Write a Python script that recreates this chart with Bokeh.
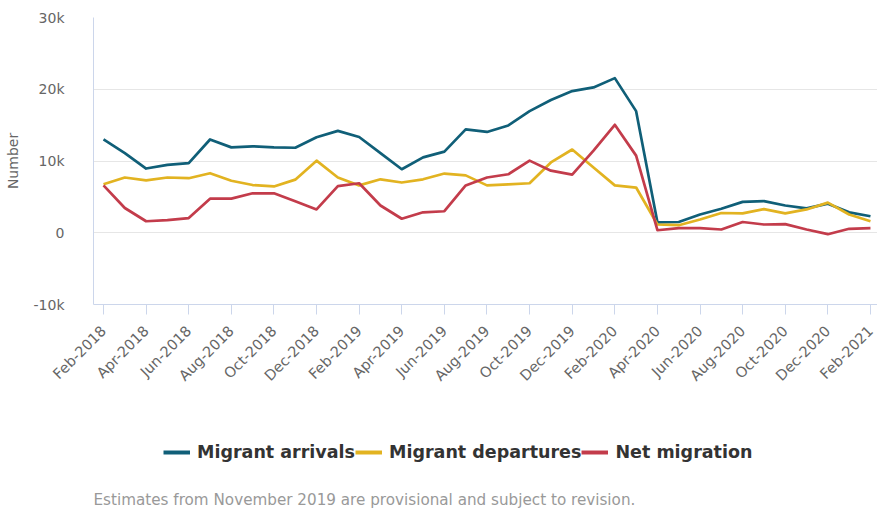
from bokeh.plotting import figure
from bokeh.layouts import column
from bokeh.models import Range1d, FixedTicker, Legend, LegendItem, Label
from bokeh.embed import file_html
from bokeh.resources import INLINE

months = ["Feb-2018", "Mar-2018", "Apr-2018", "May-2018", "Jun-2018", "Jul-2018", "Aug-2018",
          "Sep-2018", "Oct-2018", "Nov-2018", "Dec-2018", "Jan-2019", "Feb-2019", "Mar-2019",
          "Apr-2019", "May-2019", "Jun-2019", "Jul-2019", "Aug-2019", "Sep-2019", "Oct-2019",
          "Nov-2019", "Dec-2019", "Jan-2020", "Feb-2020", "Mar-2020", "Apr-2020", "May-2020",
          "Jun-2020", "Jul-2020", "Aug-2020", "Sep-2020", "Oct-2020", "Nov-2020", "Dec-2020",
          "Jan-2021", "Feb-2021"]

arrivals = [13000, 11100, 8950, 9450, 9700, 13000, 11900, 12050, 11900, 11850, 13300, 14200,
            13350, 11100, 8850, 10500, 11300, 14400, 14050, 14950, 16950, 18500, 19750, 20250,
            21550, 16950, 1450, 1500, 2550, 3350, 4300, 4400, 3800, 3400, 4050, 2850, 2300]
departures = [6750, 7700, 7300, 7700, 7600, 8300, 7250, 6650, 6450, 7400, 10050, 7700,
              6600, 7450, 7000, 7450, 8250, 8000, 6600, 6750, 6900, 9800, 11600, 9100,
              6600, 6300, 1150, 1050, 1850, 2750, 2700, 3300, 2700, 3250, 4200, 2550, 1600]
net = [6600, 3450, 1600, 1750, 2050, 4750, 4750, 5500, 5500, 4400, 3250, 6500,
       6900, 3800, 1950, 2850, 3000, 6600, 7700, 8150, 10050, 8650, 8100, 11450,
       15050, 10750, 350, 650, 650, 450, 1500, 1150, 1200, 450, -200, 550, 650]

y_ticks = [-10000, 0, 10000, 20000, 30000]
y_tick_labels = ["-10k", "0", "10k", "20k", "30k"]

series_names = ["Migrant arrivals", "Migrant departures", "Net migration"]
colors = ["#105f78", "#e2b321", "#c33c4b"]
footnote = "Estimates from November 2019 are provisional and subject to revision."

FONT = "DejaVu Sans"
x = list(range(len(months)))
series = [arrivals, departures, net]

p = figure(width=877, height=405, output_backend="svg", toolbar_location=None,
           x_range=Range1d(-0.47, len(months) - 1 + 0.33),
           y_range=Range1d(-10000, 30000),
           min_border_left=93, min_border_right=0, min_border_top=17, min_border_bottom=101)
p.outline_line_color = None
p.background_fill_color = "white"
p.border_fill_color = "white"

for vals, c in zip(series, colors):
    p.line(x, vals, line_color=c, line_width=2.7, line_join="round")

# x axis
p.xaxis.ticker = FixedTicker(ticks=x[::2])
p.xaxis.major_label_overrides = {i: months[i] for i in x[::2]}
p.xaxis.major_label_orientation = 0.785398
p.xaxis.axis_line_color = "#ccd6eb"
p.xaxis.major_tick_line_color = "#ccd6eb"
p.xaxis.major_tick_out = 10
p.xaxis.major_tick_in = 0
p.xaxis.minor_tick_line_color = None
p.xaxis.major_label_text_font = FONT
p.xaxis.major_label_text_font_size = "14.5px"
p.xaxis.major_label_text_color = "#666666"
p.xaxis.major_label_standoff = 14
p.xgrid.grid_line_color = None

# y axis
p.yaxis.ticker = FixedTicker(ticks=y_ticks)
p.yaxis.major_label_overrides = dict(zip(y_ticks, y_tick_labels))
p.yaxis.axis_line_color = "#ccd6eb"
p.yaxis.major_tick_line_color = None
p.yaxis.minor_tick_line_color = None
p.yaxis.major_label_text_font = FONT
p.yaxis.major_label_text_font_size = "14px"
p.yaxis.major_label_text_color = "#666666"
p.yaxis.major_label_standoff = 23
p.yaxis.axis_label = "Number"
p.yaxis.axis_label_text_font = FONT
p.yaxis.axis_label_text_font_size = "14px"
p.yaxis.axis_label_text_font_style = "normal"
p.yaxis.axis_label_text_color = "#666666"
p.yaxis.axis_label_standoff = 10
p.ygrid.grid_line_color = "#e6e6e6"

# legend + footnote strip (series drawn outside its visible range; only legend keys show)
q = figure(width=877, height=106, output_backend="svg", toolbar_location=None,
           x_range=Range1d(0, 1), y_range=Range1d(0, 1),
           min_border=0, x_axis_type=None, y_axis_type=None)
q.outline_line_color = None
q.grid.visible = False
q.border_fill_color = "white"

keys = [q.line(x, vals, line_color=c, line_width=4) for vals, c in zip(series, colors)]
legend = Legend(items=[LegendItem(label=n, renderers=[r]) for n, r in zip(series_names, keys)],
                orientation="horizontal", location=(70, 49),
                label_text_font=FONT, label_text_font_size="17.5px", label_text_font_style="bold",
                label_text_color="#333333", border_line_color=None, background_fill_alpha=0,
                glyph_width=27, glyph_height=18, label_standoff=7, spacing=0,
                padding=0, margin=0)
q.add_layout(legend, "center")

foot = Label(x=0, y=3, x_units="screen", y_units="screen", text=footnote,
             text_font=FONT, text_font_size="15.2px", text_color="#999999",
             text_baseline="bottom", text_align="left")
q.add_layout(foot)

open("out.html", "w").write(file_html(column(p, q, spacing=0), INLINE))
